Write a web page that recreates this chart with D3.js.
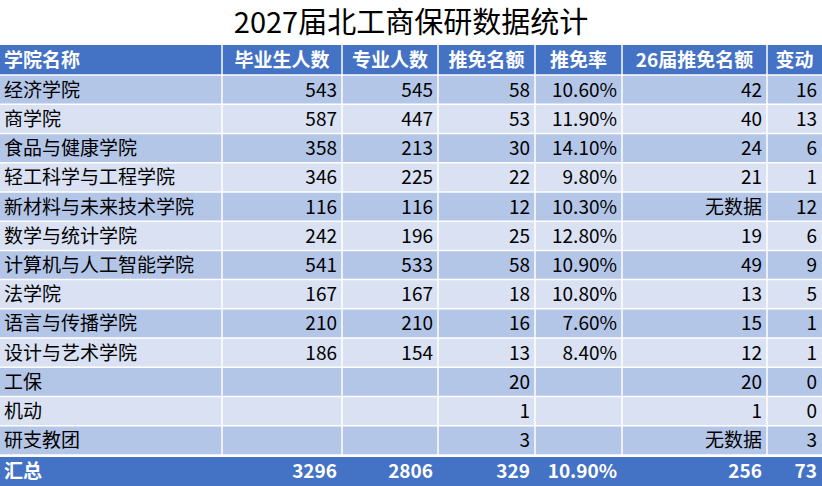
<!DOCTYPE html>
<html><head><meta charset="utf-8">
<script src="https://cdn.jsdelivr.net/npm/d3@7"></script>
<style>body{margin:0;background:#fff}svg{display:block}text{font-family:"Noto Sans CJK SC","Microsoft YaHei",sans-serif}</style>
</head><body><svg id="c" width="822" height="486"></svg>
<script>
const title = "2027届北工商保研数据统计";
const headers = ["学院名称","毕业生人数","专业人数","推免名额","推免率","26届推免名额","变动"];
const colEdges = [0,222,342,438,535,622,767,822];
const colleges = ["经济学院","商学院","食品与健康学院","轻工科学与工程学院","新材料与未来技术学院","数学与统计学院","计算机与人工智能学院","法学院","语言与传播学院","设计与艺术学院","工保","机动","研支教团"];
const graduates = [543,587,358,346,116,242,541,167,210,186,"","",""];
const majors = [545,447,213,225,116,196,533,167,210,154,"","",""];
const quota = [58,53,30,22,12,25,58,18,16,13,20,1,3];
const rate = ["10.60%","11.90%","14.10%","9.80%","10.30%","12.80%","10.90%","10.80%","7.60%","8.40%","","",""];
const quota26 = [42,40,24,21,"无数据",19,49,13,15,12,20,1,"无数据"];
const change = [16,13,6,1,12,6,9,5,1,1,0,0,3];
const totalRow = ["汇总",3296,2806,329,"10.90%",256,73];

const svg = d3.select("#c");
const W=822, topY=45, headH=30, bottomY=455;
const rowsY = d3.scaleBand().domain(d3.range(colleges.length)).range([topY+headH, bottomY]);
const colX = i => colEdges[i], colW = i => colEdges[i+1]-colEdges[i];

svg.append("text").attr("x",W/2).attr("y",33).attr("text-anchor","middle")
  .attr("font-size",29).attr("fill","#000").text(title);

svg.append("rect").attr("x",0).attr("y",topY).attr("width",W).attr("height",headH).attr("fill","#4472c4");
headers.forEach((h,i)=>{
  const t = svg.append("text").attr("y",topY+headH/2+7).attr("font-size",19).attr("font-weight","bold").attr("fill","#fff").text(h);
  if(i===0) t.attr("x",4); else t.attr("x",colX(i)+colW(i)/2).attr("text-anchor","middle");
});
const rows = colleges.map((c,i)=>[c,graduates[i],majors[i],quota[i],rate[i],quota26[i],change[i]]);
rows.forEach((r,ri)=>{
  const y = rowsY(ri), h = rowsY.bandwidth();
  svg.append("rect").attr("x",0).attr("y",y).attr("width",W).attr("height",h).attr("fill", ri%2===0?"#b4c6e7":"#d9e1f2");
  r.forEach((v,i)=>{
    const t = svg.append("text").attr("y",y+h/2+7).attr("font-size",19).attr("fill","#000").text(v);
    if(i===0) t.attr("x",4); else t.attr("x",colX(i+1)-5).attr("text-anchor","end");
  });
});
const g = svg.append("g").attr("stroke","#fff").attr("stroke-width",1.5);
colEdges.slice(1,-1).forEach(x=>g.append("line").attr("x1",x).attr("x2",x).attr("y1",topY).attr("y2",bottomY));
d3.range(colleges.length+1).forEach(i=>{const y=topY+headH+i*rowsY.bandwidth(); g.append("line").attr("x1",0).attr("x2",W).attr("y1",y).attr("y2",y);});
svg.append("line").attr("x1",0).attr("x2",W).attr("y1",bottomY+1).attr("y2",bottomY+1).attr("stroke","#fff").attr("stroke-width",2);
svg.append("rect").attr("x",0).attr("y",bottomY+2).attr("width",W).attr("height",486-bottomY-2).attr("fill","#4472c4");
totalRow.forEach((v,i)=>{
  const t = svg.append("text").attr("y",bottomY+23).attr("font-size",19).attr("font-weight","bold").attr("fill","#fff").text(v);
  if(i===0) t.attr("x",4); else t.attr("x",colX(i+1)-5).attr("text-anchor","end");
});
</script></body></html>
